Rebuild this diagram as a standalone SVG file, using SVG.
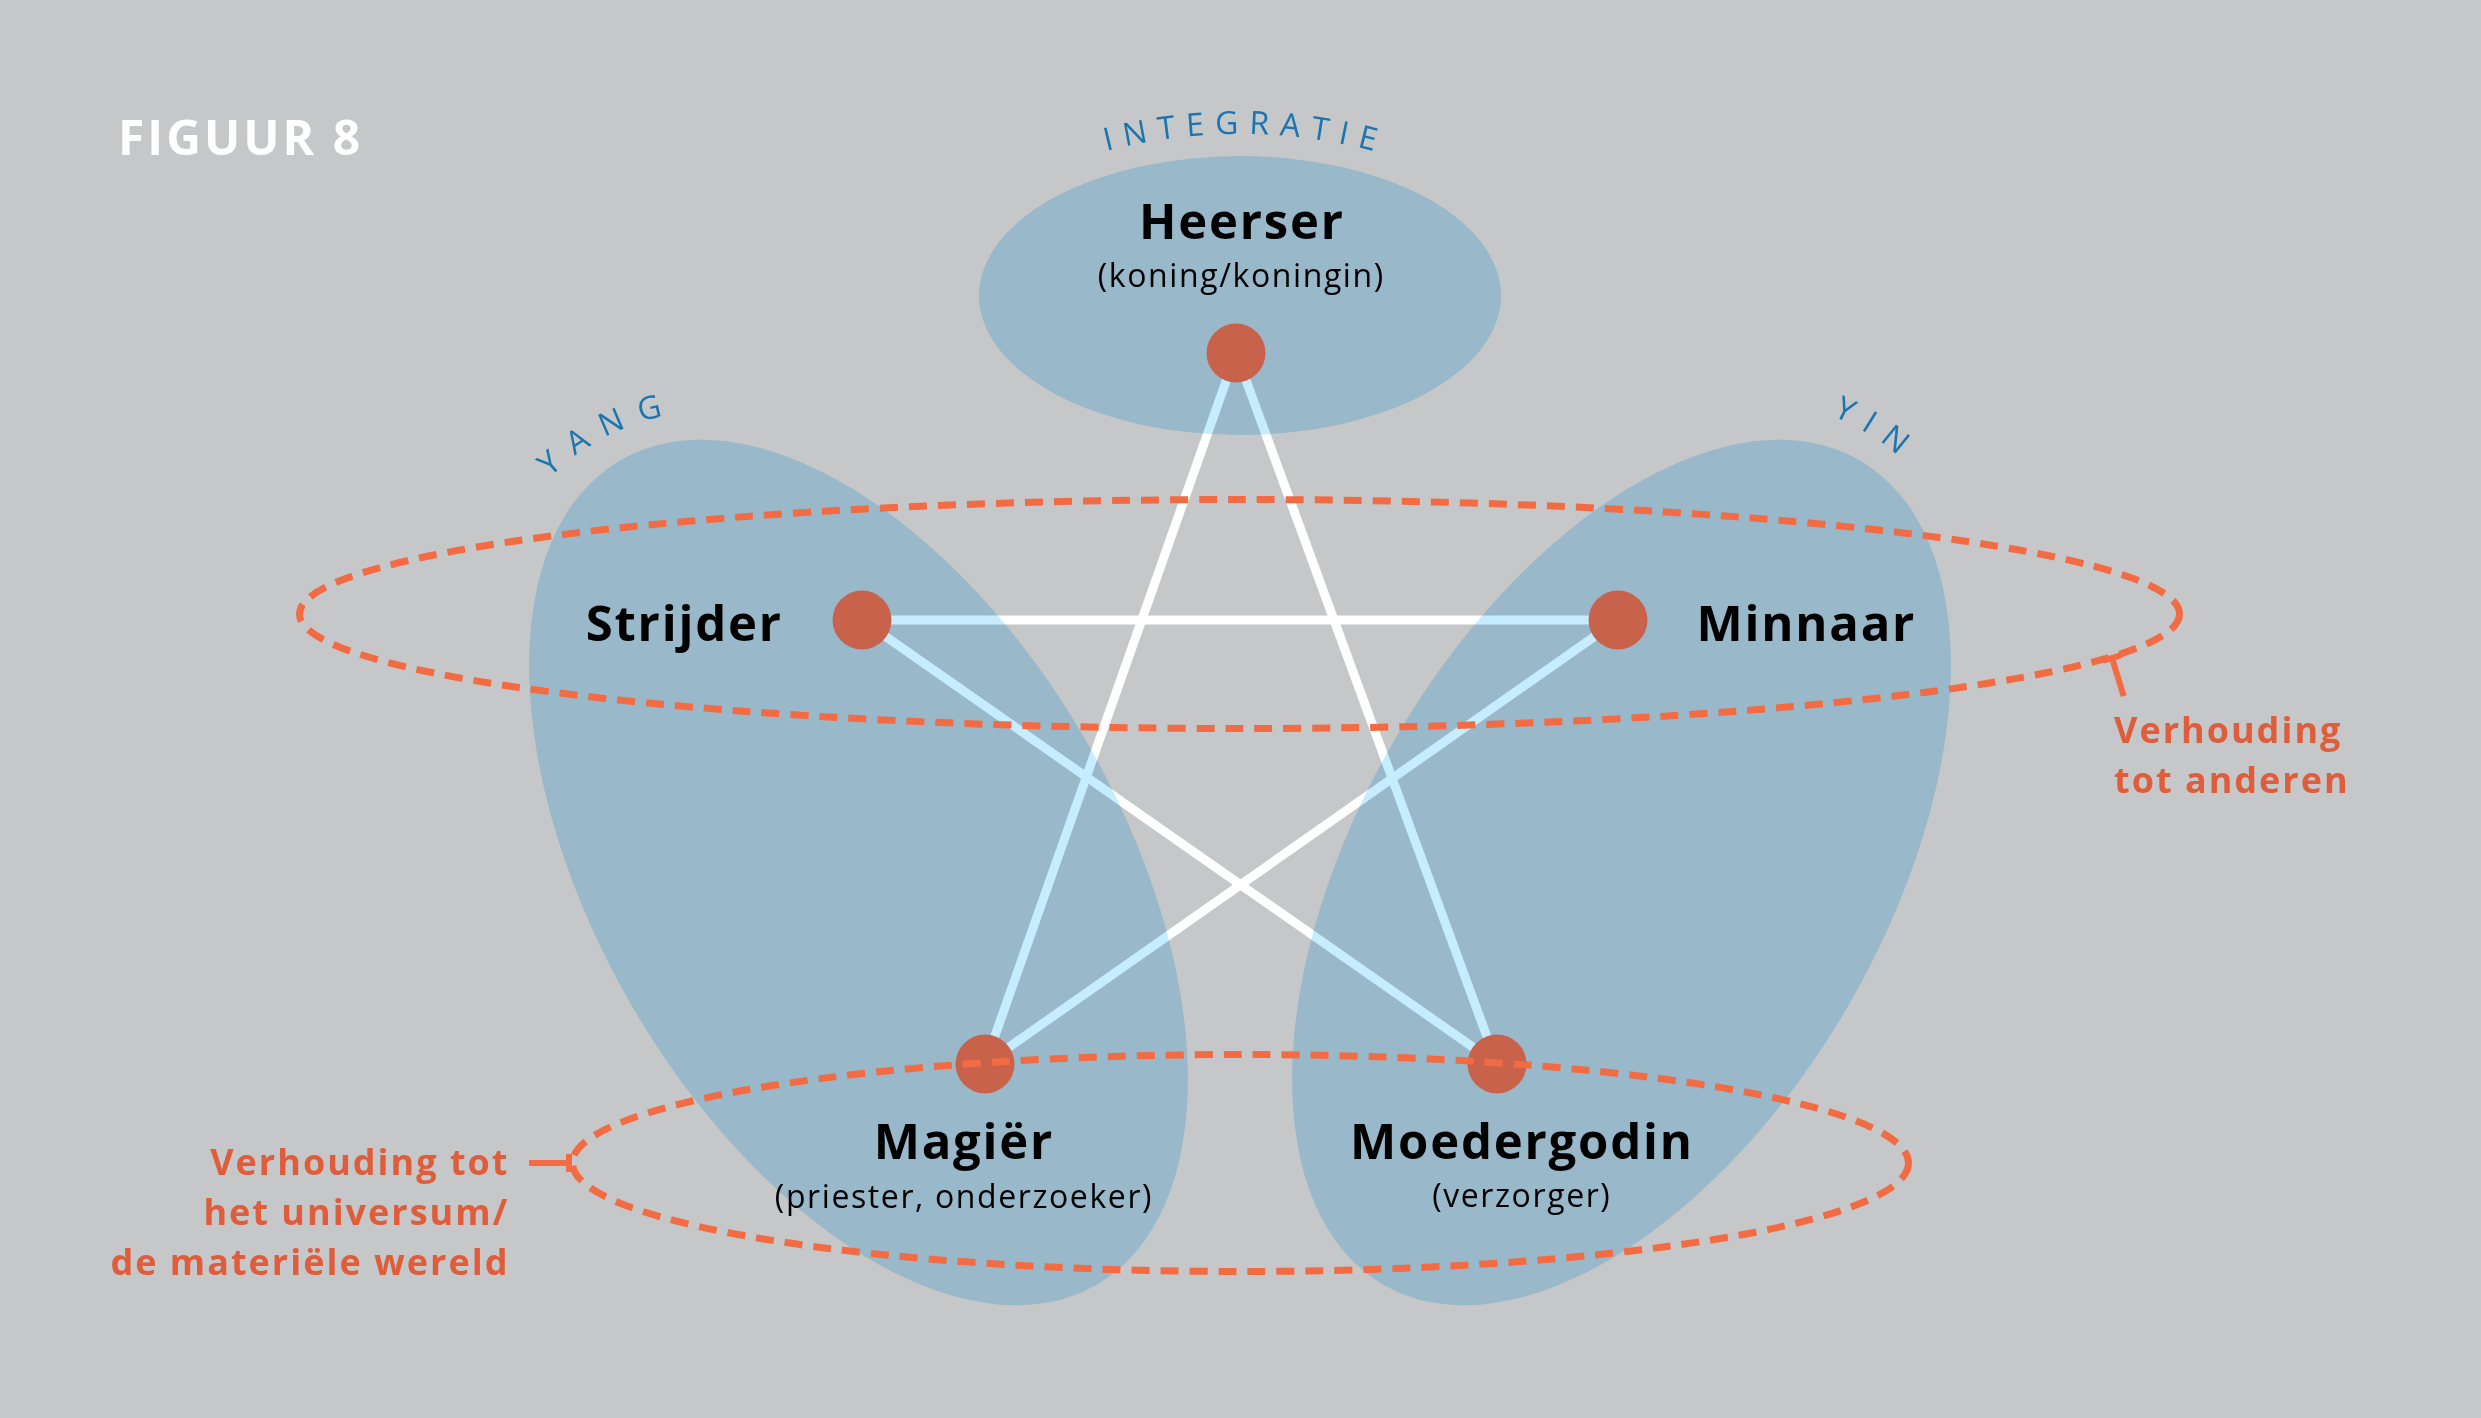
<svg xmlns="http://www.w3.org/2000/svg" xmlns:xlink="http://www.w3.org/1999/xlink" width="2481" height="1418" viewBox="0 0 2481 1418">
  <style>
    .region { fill: #c5ecff; mix-blend-mode: multiply; }
    .edge { stroke: #ffffff; stroke-width: 9; fill: none; }
    .dot { fill: #c9624a; }
    .dash { fill: none; stroke: #f26b43; stroke-width: 7; stroke-dasharray: 18 11; }
    .tick { stroke: #f26b43; stroke-width: 6; fill: none; }
    .title { font-family: "Open Sans", "Liberation Sans", sans-serif; font-weight: 700; font-size: 49px; letter-spacing: 1.8px; fill: #000; }
    .sub { font-family: "Open Sans", "Liberation Sans", sans-serif; font-weight: 400; font-size: 32px; letter-spacing: 1.6px; fill: #000; }
    .note { font-family: "Open Sans", "Liberation Sans", sans-serif; font-weight: 700; font-size: 36px; letter-spacing: 2px; fill: #df5d3a; }
    .arc { font-family: "Open Sans", "Liberation Sans", sans-serif; font-weight: 500; font-size: 32px; fill: #1b75ae; }
  </style>
  <defs>
    <path id="arcIntegratie" d="M 1014.8 183.9 A 533 533 0 0 1 1465.2 183.9"/>
    <path id="arcYang" d="M 494.4 561.2 A 238 238 0 0 1 763.1 414.7"/>
    <path id="arcYin" d="M 1706.8 401.9 A 238 238 0 0 1 1969 559.5"/>
  </defs>

  <rect x="0" y="0" width="2481" height="1418" fill="#c6c7c9"/>

  <text x="118" y="155" font-family="Open Sans, Liberation Sans, sans-serif" font-weight="700" font-size="48" letter-spacing="3" fill="#ffffff">FIGUUR 8</text>

  <g id="connectors">
    <line class="edge" x1="1236" y1="353" x2="985" y2="1064"/>
    <line class="edge" x1="1236" y1="353" x2="1497" y2="1064"/>
    <line class="edge" x1="862" y1="620" x2="1618" y2="620"/>
    <line class="edge" x1="862" y1="620" x2="1497" y2="1064"/>
    <line class="edge" x1="1618" y1="620" x2="985" y2="1064"/>
  </g>

  <g id="region-integratie">
    <ellipse class="region" cx="1240" cy="295.5" rx="261" ry="139.5"/>
    <text class="arc" letter-spacing="10.5"><textPath xlink:href="#arcIntegratie" href="#arcIntegratie" startOffset="237.8" text-anchor="middle">INTEGRATIE</textPath></text>
  </g>
  <g id="region-yang">
    <ellipse class="region" cx="0" cy="0" rx="476" ry="263" transform="translate(858.5 872.5) rotate(60)"/>
    <text class="arc" font-size="34" letter-spacing="15"><textPath xlink:href="#arcYang" href="#arcYang" startOffset="173.7" text-anchor="middle">YANG</textPath></text>
  </g>
  <g id="region-yin">
    <ellipse class="region" cx="0" cy="0" rx="476" ry="263" transform="translate(1621.5 872.5) rotate(-60)"/>
    <text class="arc" font-size="34" letter-spacing="13"><textPath xlink:href="#arcYin" href="#arcYin" startOffset="172.7" text-anchor="middle">YIN</textPath></text>
  </g>

  <g id="node-heerser">
    <circle class="dot" cx="1236" cy="353" r="29.5"/>
    <text class="title" x="1241.9" y="239" text-anchor="middle">Heerser</text>
    <text class="sub" x="1241.3" y="287" text-anchor="middle">(koning/koningin)</text>
  </g>
  <g id="node-strijder">
    <circle class="dot" cx="862" cy="620" r="29.5"/>
    <text class="title" x="782.8" y="641" text-anchor="end">Strijder</text>
  </g>
  <g id="node-minnaar">
    <circle class="dot" cx="1618" cy="620" r="29.5"/>
    <text class="title" x="1696.5" y="641">Minnaar</text>
  </g>
  <g id="node-magier">
    <circle class="dot" cx="985" cy="1064" r="29.5"/>
    <text class="title" x="963.9" y="1158.5" text-anchor="middle">Magiër</text>
    <text class="sub" x="964" y="1208" text-anchor="middle">(priester, onderzoeker)</text>
  </g>
  <g id="node-moedergodin">
    <circle class="dot" cx="1497" cy="1064" r="29.5"/>
    <text class="title" x="1521.9" y="1158.5" text-anchor="middle">Moedergodin</text>
    <text class="sub" x="1521.8" y="1207" text-anchor="middle">(verzorger)</text>
  </g>

  <g id="relation-others">
    <ellipse class="dash" cx="1239.5" cy="614" rx="940" ry="114.5"/>
    <line class="tick" x1="2103.4" y1="660.6" x2="2120.6" y2="655.4"/>
    <line class="tick" x1="2112" y1="658" x2="2123.7" y2="696.2"/>
    <text class="note" x="2114" y="743">Verhouding</text>
    <text class="note" x="2114" y="793">tot anderen</text>
  </g>
  <g id="relation-universe">
    <ellipse class="dash" cx="1240.5" cy="1163" rx="668" ry="108.5"/>
    <line class="tick" x1="529" y1="1163" x2="569" y2="1163"/>
    <line class="tick" x1="569" y1="1154" x2="569" y2="1172"/>
    <text class="note" x="509.5" y="1174.5" text-anchor="end">Verhouding tot</text>
    <text class="note" x="509.5" y="1225" text-anchor="end">het universum/</text>
    <text class="note" x="509.5" y="1274.5" text-anchor="end">de materiële wereld</text>
  </g>
</svg>
